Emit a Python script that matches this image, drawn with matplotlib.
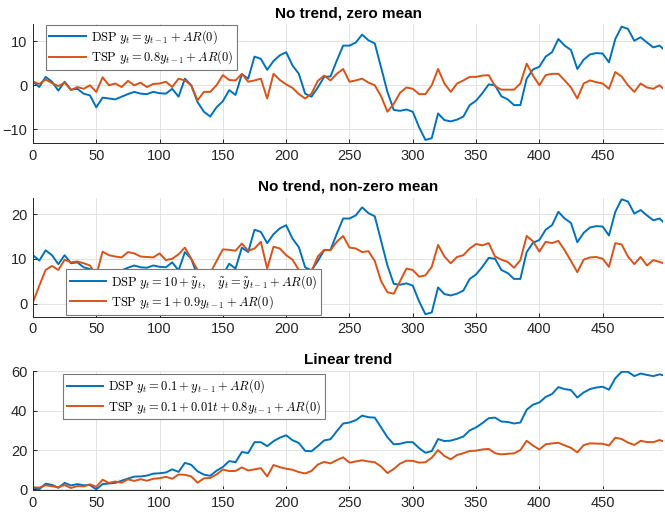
import numpy as np
import matplotlib
matplotlib.use('Agg')
import matplotlib.pyplot as plt

t_idx = list(range(0, 500, 5)) + [498]

dsp_zero = [0.8, -0.4, 1.9, 0.8, -1.2, 0.8, -1.0, -0.8, -1.9, -2.3,
            -5.0, -2.8, -3.0, -3.2, -2.6, -2.0, -1.5, -1.9, -2.0, -1.5,
            -1.8, -1.9, -0.8, -2.6, 1.5, 0.0, -3.8, -6.0, -7.1, -5.0,
            -3.6, -1.1, -2.2, 2.5, 1.5, 6.5, 6.0, 3.5, 5.5, 6.8,
            7.5, 4.5, 2.6, -1.9, -2.6, -0.5, 1.9, 2.0, 5.6, 9.0,
            9.0, 9.7, 11.5, 10.2, 9.5, 4.0, -1.5, -5.6, -5.8, -5.5,
            -6.0, -9.5, -12.4, -12.0, -6.4, -7.9, -8.2, -7.8, -7.1, -4.5,
            -3.5, -1.8, 0.2, 0.0, -2.5, -3.2, -4.5, -4.5, 1.5, 3.6,
            4.2, 6.5, 7.5, 10.5, 9.0, 8.0, 3.7, 5.8, 7.0, 7.3,
            7.2, 5.2, 10.5, 13.3, 12.8, 10.1, 10.9, 9.7, 8.6, 9.0,
            8.2]

tsp_zero = [0.8, 0.3, 1.3, 0.5, -0.2, 0.6, -1.1, -0.4, -0.8, 0.0,
            -1.5, 1.8, 0.0, 0.4, -0.4, 1.0, 0.0, 0.6, -0.4, 0.3,
            0.4, 0.8, -0.4, 1.5, 1.1, 0.0, -3.4, -1.5, -1.5, 0.0,
            2.3, 1.2, 1.1, 2.6, 0.8, 1.1, 1.5, -3.0, 2.6, 1.2,
            0.2, -0.6, -2.0, -3.0, -1.9, 1.0, 2.2, 1.1, 2.6, 3.7,
            0.8, 1.1, 1.5, 0.6, 0.0, -2.5, -6.0, -4.2, -1.7, -0.5,
            -0.8, -2.0, -2.0, 0.0, 3.7, 0.4, -1.5, 0.4, 1.1, 1.9,
            1.9, 2.2, 2.3, -0.2, -1.0, -1.0, -1.0, 0.4, 4.9, 2.2,
            0.0, 2.3, 2.6, 2.6, 1.1, -0.5, -3.0, 0.4, 1.1, 0.7,
            0.4, -0.8, 3.0, 2.0, 0.0, -1.5, 0.4, -0.5, -0.8, 0.0,
            -0.8]

dsp_mean = [10.8, 9.6, 11.9, 10.8, 8.8, 10.8, 9.0, 9.2, 8.1, 7.7,
            5.0, 7.2, 7.0, 6.8, 7.4, 8.0, 8.5, 8.1, 8.0, 8.5,
            8.2, 8.1, 9.2, 7.4, 11.5, 10.0, 6.2, 4.0, 2.9, 5.0,
            6.4, 8.9, 7.8, 12.5, 11.5, 16.5, 16.0, 13.5, 15.5, 16.8,
            17.5, 14.5, 12.6, 8.1, 7.4, 9.5, 11.9, 12.0, 15.6, 19.0,
            19.0, 19.7, 21.5, 20.2, 19.5, 14.0, 8.5, 4.4, 4.2, 4.5,
            4.0, 0.5, -2.4, -2.0, 3.6, 2.1, 1.8, 2.2, 2.9, 5.5,
            6.5, 8.2, 10.2, 10.0, 7.5, 6.8, 5.5, 5.5, 11.5, 13.6,
            14.2, 16.5, 17.5, 20.5, 19.0, 18.0, 13.7, 15.8, 17.0, 17.3,
            17.2, 15.2, 20.5, 23.3, 22.8, 20.1, 20.9, 19.7, 18.6, 19.0,
            18.2]

tsp_mean = [0.3, 4.0, 7.5, 8.4, 7.5, 9.8, 9.2, 9.4, 9.0, 8.5,
            6.3, 11.6, 10.8, 10.5, 10.3, 11.5, 11.2, 10.5, 10.4, 10.3,
            11.2, 9.7, 10.0, 11.0, 12.5, 10.0, 7.5, 6.8, 6.8, 9.5,
            12.1, 12.0, 11.8, 13.4, 11.8, 12.3, 13.8, 7.8, 12.7, 12.3,
            10.8, 9.8, 7.5, 5.4, 7.2, 10.5, 12.0, 11.9, 13.8, 15.1,
            12.5, 12.3, 11.5, 11.7, 9.5, 5.0, 2.5, 2.2, 5.0, 7.8,
            7.5, 6.0, 6.3, 8.2, 13.1, 10.5, 9.0, 10.4, 10.8, 12.3,
            13.3, 13.0, 13.5, 10.5, 9.8, 9.3, 8.0, 9.7, 15.1, 13.9,
            11.6, 13.8, 13.5, 14.0, 11.9, 9.5, 7.0, 9.8, 10.3, 10.4,
            10.0, 8.2, 13.5, 13.2, 10.5, 8.8, 10.4, 8.5, 9.7, 9.3,
            9.0]

dsp_trend = [0.8, 0.1, 2.9, 2.3, 0.8, 3.3, 2.0, 2.7, 2.1, 2.2,
             0.0, 2.7, 3.0, 3.3, 4.4, 5.5, 6.5, 6.6, 7.0, 8.0,
             8.2, 8.6, 10.2, 8.9, 13.5, 12.5, 9.2, 7.5, 6.9, 9.5,
             11.4, 14.4, 13.8, 19.0, 18.5, 24.0, 24.0, 22.0, 24.5, 26.3,
             27.5, 25.0, 23.6, 19.6, 19.4, 22.0, 24.9, 25.5, 29.6, 33.5,
             34.0, 35.2, 37.5, 36.7, 36.5, 31.5, 26.5, 22.9, 23.2, 24.0,
             24.0, 21.0, 18.6, 19.5, 25.6, 24.6, 24.8, 25.7, 26.9, 30.0,
             31.5, 33.7, 36.2, 36.5, 34.5, 34.3, 33.5, 34.0, 40.5, 43.1,
             44.2, 47.0, 48.5, 52.0, 51.0, 50.5, 46.7, 49.3, 51.0, 51.8,
             52.2, 50.7, 56.5, 59.8, 59.8, 57.6, 58.9, 58.2, 57.6, 58.5,
             58.0]

tsp_trend = [1.1, 0.9, 2.1, 1.6, 1.1, 2.2, 0.7, 1.7, 1.5, 2.6,
             1.3, 4.9, 3.3, 4.0, 3.4, 5.1, 4.3, 5.2, 4.4, 5.4,
             5.7, 6.4, 5.4, 7.6, 7.4, 6.6, 3.4, 5.6, 5.8, 7.6,
             10.1, 9.3, 9.4, 11.2, 9.6, 10.2, 10.8, 6.6, 12.4, 11.3,
             10.5, 10.0, 8.8, 8.1, 9.4, 12.6, 14.0, 13.2, 14.9, 16.3,
             13.6, 14.2, 14.8, 14.2, 13.8, 11.6, 8.3, 10.4, 13.1, 14.6,
             14.5, 13.6, 13.8, 16.1, 20.0, 17.0, 15.3, 17.5, 18.4, 19.5,
             19.7, 20.3, 20.6, 18.4, 17.8, 18.1, 18.3, 20.0, 24.7, 22.3,
             20.3, 22.9, 23.4, 23.7, 22.4, 21.1, 18.8, 22.5, 23.4, 23.3,
             23.2, 22.3, 26.3, 25.6, 23.8, 22.6, 24.7, 24.1, 24.0, 25.1,
             24.4]

titles = ['No trend, zero mean', 'No trend, non-zero mean', 'Linear trend']
labels = [
    (r'$\mathrm{DSP}\ y_t = y_{t-1} + AR(0)$',
     r'$\mathrm{TSP}\ y_t = 0.8y_{t-1} + AR(0)$'),
    (r'$\mathrm{DSP}\ y_t = 10 + \tilde{y}_t, \quad \tilde{y}_t = \tilde{y}_{t-1} + AR(0)$',
     r'$\mathrm{TSP}\ y_t = 1 + 0.9y_{t-1} + AR(0)$'),
    (r'$\mathrm{DSP}\ y_t = 0.1 + y_{t-1} + AR(0)$',
     r'$\mathrm{TSP}\ y_t = 0.1 + 0.01t + 0.8y_{t-1} + AR(0)$'),
]
series = [(dsp_zero, tsp_zero), (dsp_mean, tsp_mean), (dsp_trend, tsp_trend)]
ylims = [(-13.1, 13.9), (-3.0, 23.6), (-0.3, 60.2)]
yticks = [[-10, 0, 10], [0, 10, 20], [0, 20, 40, 60]]
leg_anchor = [(0.02, 0.995, 'upper left'), (0.052, 0.02, 'lower left'),
              (0.048, 0.975, 'upper left')]

plt.rcParams['font.family'] = ['Liberation Sans', 'DejaVu Sans']
plt.rcParams['mathtext.fontset'] = 'cm'

BLUE = '#0072BD'
ORANGE = '#D95319'
AXC = '#262626'

fig = plt.figure(figsize=(6.65, 5.12), dpi=100)
bottoms = [0.7207, 0.381, 0.043]

for i in range(3):
    ax = fig.add_axes([0.0496, bottoms[i], 0.948, 0.2324])
    dsp, tsp = series[i]
    ax.plot(t_idx, dsp, color=BLUE, lw=1.4, label=labels[i][0])
    ax.plot(t_idx, tsp, color=ORANGE, lw=1.4, label=labels[i][1])
    ax.set_xlim(0, 498)
    ax.set_ylim(*ylims[i])
    ax.set_xticks(range(0, 500, 50))
    ax.set_yticks(yticks[i])
    ax.grid(True, color='#e3e3e3', lw=0.7)
    ax.set_axisbelow(True)
    for s in ['top', 'right']:
        ax.spines[s].set_visible(False)
    for s in ['left', 'bottom']:
        ax.spines[s].set_color(AXC)
        ax.spines[s].set_linewidth(0.7)
    ax.tick_params(direction='in', length=3, width=0.7, colors=AXC,
                   labelsize=10.5, pad=4)
    ax.set_title(titles[i], fontsize=11, fontweight='bold', pad=5)
    x0, y0, loc = leg_anchor[i]
    leg = ax.legend(loc=loc, bbox_to_anchor=(x0, y0), fontsize=9,
                    frameon=True, fancybox=False, framealpha=1,
                    handlelength=2.9, borderpad=0.3, labelspacing=0.2,
                    handletextpad=0.4, borderaxespad=0)
    leg.get_frame().set_edgecolor('#7a7a7a')
    leg.get_frame().set_linewidth(0.8)

fig.savefig('out.png', dpi=100)
